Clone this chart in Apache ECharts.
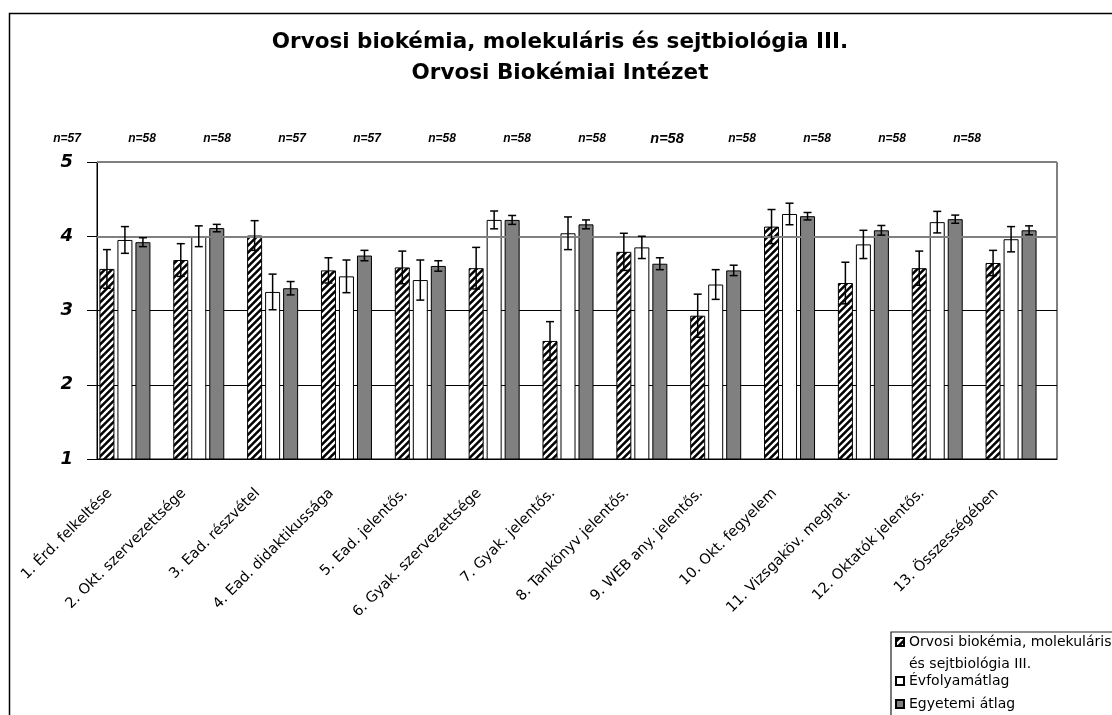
<!DOCTYPE html>
<html lang="hu">
<head>
<meta charset="UTF-8">
<title>Orvosi biokémia, molekuláris és sejtbiológia III.</title>
<style>
    html, body { margin: 0; padding: 0; background: #fff; }
    #chart { width: 1112px; height: 715px; }
</style>
<script src="https://cdn.jsdelivr.net/npm/echarts@6/dist/echarts.min.js"></script>
</head>
<body>
<div id="chart"></div>
<script>
    // kategóriák (x tengely)
    const categories = [
        '1. Érd. felkeltése', '2. Okt. szervezettsége', '3. Ead. részvétel',
        '4. Ead. didaktikussága', '5. Ead. jelentős.', '6. Gyak. szervezettsége',
        '7. Gyak. jelentős.', '8. Tankönyv jelentős.', '9. WEB any. jelentős.',
        '10. Okt. fegyelem', '11. Vizsgaköv. meghat.', '12. Oktatók jelentős.',
        '13. Összességében'
    ];
    const nValues = [57, 58, 58, 57, 57, 58, 58, 58, 58, 58, 58, 58, 58];

    const seriesNames = ['Orvosi biokémia, molekuláris és sejtbiológia III.', 'Évfolyamátlag', 'Egyetemi átlag'];
    const course    = [3.56, 3.68, 4.01, 3.54, 3.58, 3.57, 2.59, 3.79, 2.93, 4.13, 3.37, 3.57, 3.64];
    const courseErr = [0.26, 0.22, 0.20, 0.17, 0.22, 0.28, 0.26, 0.25, 0.29, 0.23, 0.28, 0.23, 0.17];
    const year      = [3.95, 4.00, 3.25, 3.46, 3.41, 4.22, 4.04, 3.85, 3.35, 4.30, 3.89, 4.19, 3.96];
    const yearErr   = [0.18, 0.14, 0.24, 0.22, 0.27, 0.12, 0.22, 0.15, 0.20, 0.145, 0.19, 0.145, 0.17];
    const univ      = [3.92, 4.11, 3.30, 3.74, 3.60, 4.22, 4.16, 3.63, 3.54, 4.27, 4.08, 4.23, 4.08];
    const univErr   = [0.06, 0.05, 0.09, 0.07, 0.07, 0.06, 0.06, 0.08, 0.07, 0.05, 0.065, 0.055, 0.06];

    const yTicks = [1, 2, 3, 4, 5];

    const BAR_W = 15, BAR_GAP = 3;
    const BIG_N = 8; // a 9. felirat nagyobb betűvel

    // fekete-fehér ferde csíkozás
    function hatch() {
        const s = 7;
        const c = document.createElement('canvas');
        c.width = c.height = s;
        const g = c.getContext('2d');
        g.fillStyle = '#000';
        g.fillRect(0, 0, s, s);
        g.strokeStyle = '#fff';
        g.lineWidth = 2.4;
        g.beginPath();
        g.moveTo(-1, s + 1); g.lineTo(s + 1, -1);
        g.moveTo(-s / 2 - 1, s / 2 + 1); g.lineTo(s / 2 + 1, -s / 2 - 1);
        g.moveTo(s / 2 - 1, s * 1.5 + 1); g.lineTo(s * 1.5 + 1, s / 2 - 1);
        g.stroke();
        return c;
    }

    function errSeries(vals, errs, k) {
        const off = (k - 1.5) * (BAR_W + BAR_GAP);
        return {
            type: 'custom',
            z: 5,
            silent: true,
            encode: { x: 0, y: [1, 2] },
            data: vals.map((v, i) => [i, v - errs[i], v + errs[i]]),
            renderItem: (params, api) => {
                const lo = api.coord([api.value(0), api.value(1)]);
                const hi = api.coord([api.value(0), api.value(2)]);
                const x = lo[0] + off;
                const st = { stroke: '#000', lineWidth: 1.5 };
                return {
                    type: 'group',
                    children: [
                        { type: 'line', shape: { x1: x, y1: lo[1], x2: x, y2: hi[1] }, style: st },
                        { type: 'line', shape: { x1: x - 4, y1: hi[1], x2: x + 4, y2: hi[1] }, style: st },
                        { type: 'line', shape: { x1: x - 4, y1: lo[1], x2: x + 4, y2: lo[1] }, style: st }
                    ]
                };
            }
        };
    }

    const chart = echarts.init(document.getElementById('chart'));
    const barBorder = { borderColor: '#000', borderWidth: 1 };

    const option = {
        animation: false,
        textStyle: { fontFamily: 'DejaVu Sans' },
        graphic: [
            { type: 'rect', shape: { x: 9.5, y: 13.5, width: 1200, height: 800 }, style: { fill: 'none', stroke: '#000', lineWidth: 1.5 }, z: -10 },
            { type: 'rect', shape: { x: 891, y: 632, width: 300, height: 200 }, style: { fill: '#fff', stroke: '#222', lineWidth: 1.2 }, z: 0 },
            {
                type: 'text', x: 560, y: 27, z: 10,
                style: {
                    text: 'Orvosi biokémia, molekuláris és sejtbiológia III.\nOrvosi Biokémiai Intézet',
                    font: 'bold 21.5px "DejaVu Sans"', fill: '#000', textAlign: 'center', lineHeight: 31
                }
            }
        ],
        legend: [
            {
                // üres első sor: így az ikon az első szövegsorhoz igazodik
                data: [seriesNames[0]], left: 895, top: 609, padding: 0, selectedMode: false,
                itemWidth: 8, itemHeight: 8, icon: 'rect',
                formatter: n => '\n' + n.replace(' és', '\nés'),
                textStyle: { fontSize: 14, color: '#000', lineHeight: 22 }
            },
            {
                data: [seriesNames[1]], left: 895, top: 673, padding: 0, selectedMode: false,
                itemWidth: 8, itemHeight: 8, icon: 'rect',
                textStyle: { fontSize: 14, color: '#000', lineHeight: 16 }
            },
            {
                data: [seriesNames[2]], left: 895, top: 696, padding: 0, selectedMode: false,
                itemWidth: 8, itemHeight: 8, icon: 'rect',
                textStyle: { fontSize: 14, color: '#000', lineHeight: 16 }
            }
        ],
        grid: [
            { left: 97, top: 162, width: 960, height: 297, show: true, borderColor: '#000', borderWidth: 1, backgroundColor: '#fff' },
            { left: 29.5, top: 129, width: 975, height: 20 }
        ],
        xAxis: [
            {
                type: 'category', data: categories, gridIndex: 0,
                axisLine: { lineStyle: { color: '#000', width: 1 } },
                axisTick: { interval: 0, length: 6, lineStyle: { color: '#000' } },
                axisLabel: {
                    interval: 0, rotate: 45, fontSize: 14.5, color: '#000', margin: 8,
                    padding: [0, 34, 0, 0]
                }
            },
            { type: 'category', data: categories, gridIndex: 1, show: false }
        ],
        yAxis: [
            {
                type: 'value', min: yTicks[0], max: yTicks[yTicks.length - 1], interval: 1, gridIndex: 0,
                axisLine: { show: true, lineStyle: { color: '#000' } },
                axisTick: { show: true, length: 10, lineStyle: { color: '#000' } },
                axisLabel: {
                    margin: 24, color: '#000', fontSize: 18, fontWeight: 'bold', fontStyle: 'italic'
                },
                splitLine: { lineStyle: { color: '#000', width: 1 } }
            },
            { type: 'value', min: -1, max: 1, gridIndex: 1, show: false }
        ],
        series: [
            {
                name: seriesNames[0], type: 'bar', data: course, barWidth: BAR_W, barGap: (BAR_GAP / BAR_W * 100) + '%',
                itemStyle: Object.assign({ color: { image: hatch(), repeat: 'repeat' } }, barBorder), z: 2
            },
            {
                name: seriesNames[1], type: 'bar', data: year, barWidth: BAR_W,
                itemStyle: Object.assign({ color: '#fff' }, barBorder), z: 2
            },
            {
                name: seriesNames[2], type: 'bar', data: univ, barWidth: BAR_W,
                itemStyle: Object.assign({ color: '#808080' }, barBorder), z: 2
            },
            {
                // üres negyedik oszlop helye (az eredeti diagram így tolja balra a csoportot)
                name: 'spacer', type: 'bar', data: [], barWidth: BAR_W, z: 1,
                markLine: {
                    silent: true, symbol: ['none', 'none'], label: { show: false },
                    lineStyle: { color: '#808080', width: 2, type: 'solid' },
                    data: [{ yAxis: yTicks[3] }, { yAxis: yTicks[4] }]
                }
            },
            errSeries(course, courseErr, 0),
            errSeries(year, yearErr, 1),
            errSeries(univ, univErr, 2),
            {
                type: 'custom', xAxisIndex: 1, yAxisIndex: 1, silent: true,
                data: nValues.map((n, i) => [i, 0, n]),
                renderItem: (params, api) => {
                    const p = api.coord([api.value(0), api.value(1)]);
                    const size = params.dataIndex === BIG_N ? 14.5 : 12;
                    return {
                        type: 'text', x: p[0], y: p[1],
                        style: {
                            text: 'n=' + api.value(2), fill: '#000',
                            font: 'italic bold ' + size + 'px "Liberation Sans", Arial',
                            textAlign: 'center', textVerticalAlign: 'middle'
                        }
                    };
                }
            }
        ]
    };

    chart.setOption(option);
</script>
</body>
</html>
